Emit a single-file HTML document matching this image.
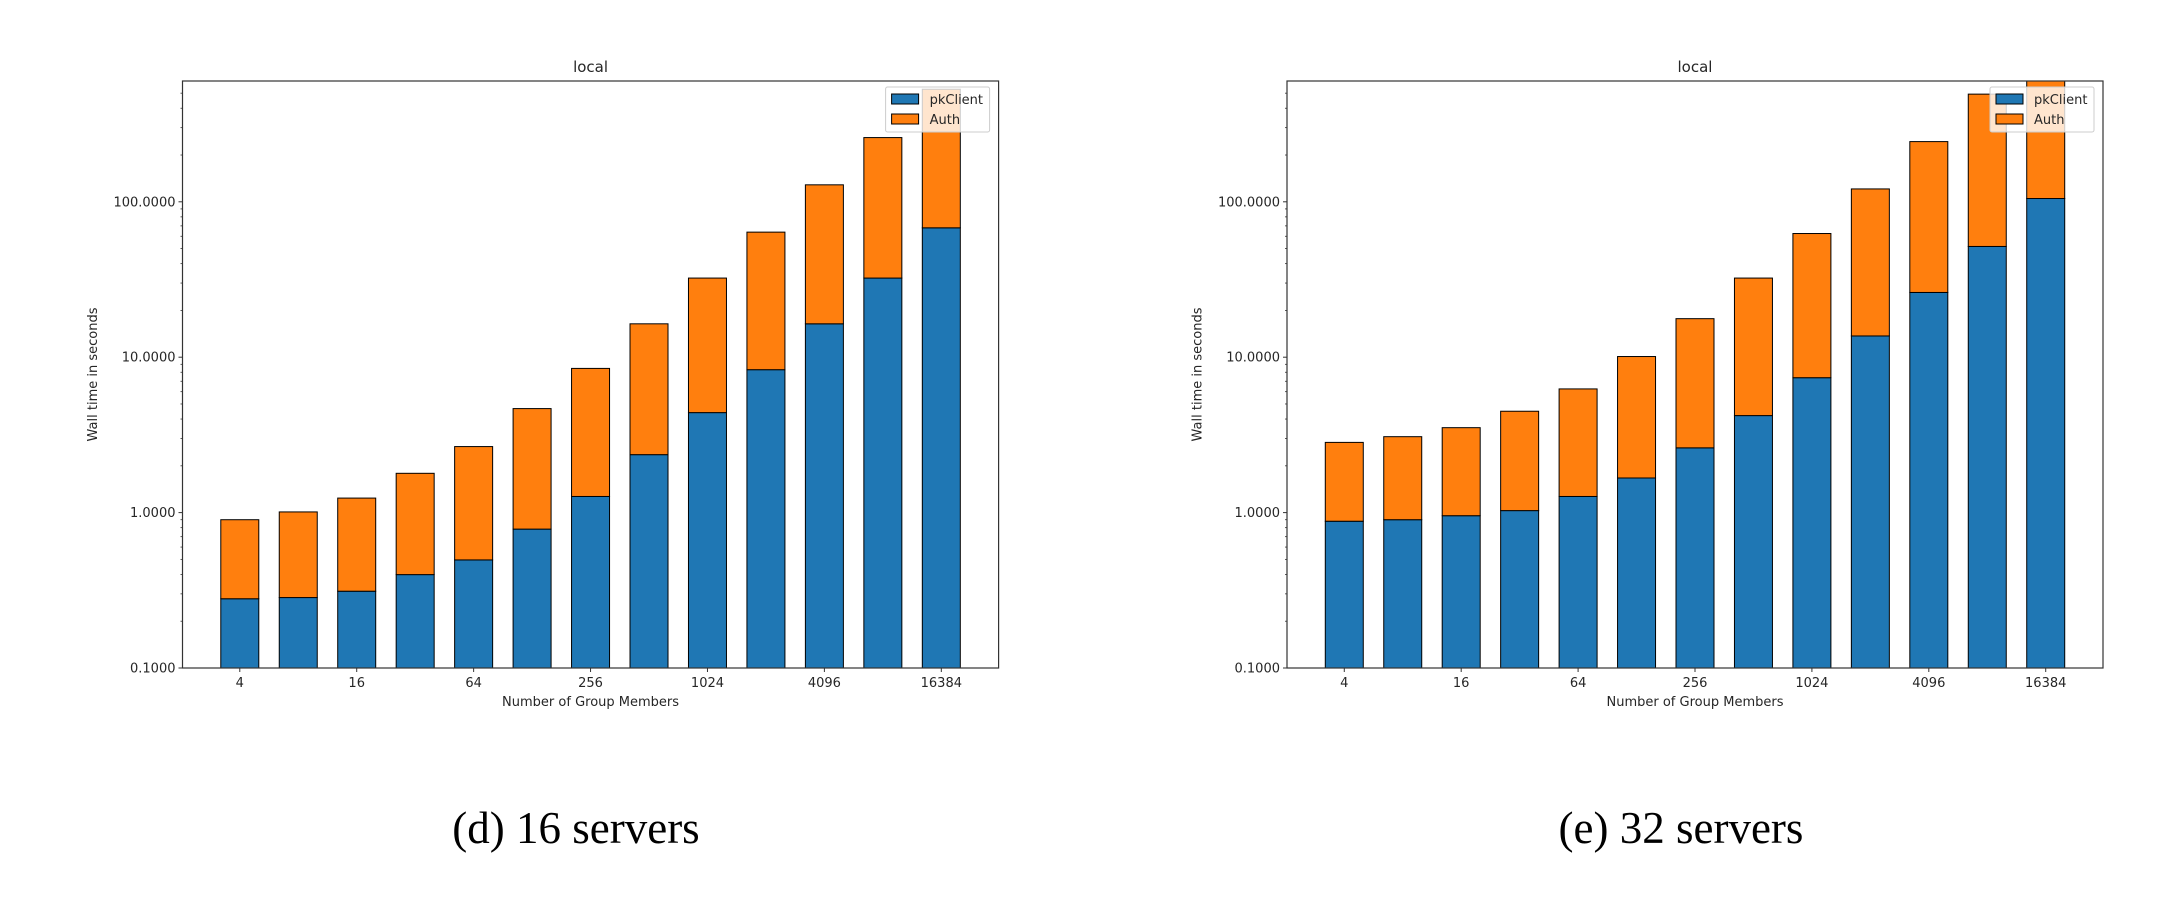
<!DOCTYPE html>
<html><head><meta charset="utf-8">
<style>
html,body{margin:0;padding:0;background:#fff;}
svg text{font-family:"DejaVu Sans","Liberation Sans",sans-serif;fill:#262626;}
.cap{font-family:"Liberation Serif",serif;font-size:45px;fill:#000;}
</style></head>
<body>
<svg id="root" width="2180" height="892" viewBox="0 0 2180 892" xmlns="http://www.w3.org/2000/svg">
<text class="cap" x="576" y="843" text-anchor="middle">(d) 16 servers</text>
<text class="cap" x="1681" y="843" text-anchor="middle">(e) 32 servers</text>
</svg>
<script>
const categories = ["4","8","16","32","64","128","256","512","1024","2048","4096","8192","16384"];
const tickLabels = ["4","16","64","256","1024","4096","16384"];
const yTickValues = [0.1, 1, 10, 100];
const yTickLabels = ["0.1000","1.0000","10.0000","100.0000"];
const pk16 = [0.279,0.284,0.312,0.399,0.496,0.783,1.27,2.36,4.40,8.31,16.4,32.3,68];
const total16 = [0.90,1.01,1.24,1.79,2.66,4.67,8.47,16.4,32.3,63.8,128.6,259,530];
const pk32 = [0.88,0.90,0.955,1.03,1.27,1.67,2.61,4.21,7.38,13.7,26.1,51.6,105];
const total32 = [2.83,3.08,3.52,4.49,6.25,10.1,17.7,32.3,62.5,121,244,493,1000];

const NS="http://www.w3.org/2000/svg";
const root=document.getElementById('root');
function mk(tag,attrs,parent){const e=document.createElementNS(NS,tag);for(const k in attrs)e.setAttribute(k,attrs[k]);(parent||root).appendChild(e);return e;}

function drawChart(id,L,R,pk,total){
  const T=81,B=668;
  const yMinLog=-1, decade=155.4;
  const y=v=>B-(Math.log10(v)-yMinLog)*decade;
  const x0=-0.98,x1=categories.length-1+0.98;
  const x=i=>L+(i-x0)/(x1-x0)*(R-L);
  const unit=(R-L)/(x1-x0), bw=0.65*unit;
  const g=mk('g',{});
  
  
  const cp=mk('clipPath',{id:id+'-clip'},g);
  mk('rect',{x:L,y:T,width:R-L,height:B-T},cp);
  const bars=mk('g',{'clip-path':'url(#'+id+'-clip)'},g);
  categories.forEach((c,i)=>{
    const r1=mk('rect',{x:x(i)-bw/2,y:y(pk[i]),width:bw,height:B-y(pk[i]),fill:'#1f77b4',stroke:'#000','stroke-width':1},bars);
    
    
    const r2=mk('rect',{x:x(i)-bw/2,y:y(total[i]),width:bw,height:y(pk[i])-y(total[i]),fill:'#ff7f0e',stroke:'#000','stroke-width':1},bars);
    
    
  });
  const fr=mk('rect',{x:L,y:T,width:R-L,height:B-T,fill:'none',stroke:'#333','stroke-width':1.2},g);
  
  
  // y ticks
  const topLog=(B-T)/decade+yMinLog;
  for(let d=-1;d<=Math.floor(topLog);d++){
    for(let m=2;m<=9;m++){const v=m*Math.pow(10,d);if(Math.log10(v)>topLog)break;
      mk('line',{x1:L-2,x2:L,y1:y(v),y2:y(v),stroke:'#333','stroke-width':0.8},g);}
  }
  yTickValues.forEach((v,k)=>{
    mk('line',{x1:L-4,x2:L,y1:y(v),y2:y(v),stroke:'#333','stroke-width':1},g);
    const t=mk('text',{x:L-7,y:y(v)+4.5,'text-anchor':'end','font-size':'13'},g);
    t.textContent=yTickLabels[k];
    
    
  });
  tickLabels.forEach((lab,k)=>{
    const i=categories.indexOf(lab);
    mk('line',{x1:x(i),x2:x(i),y1:B,y2:B+4,stroke:'#333','stroke-width':1},g);
    const t=mk('text',{x:x(i),y:B+19,'text-anchor':'middle','font-size':'13'},g);
    t.textContent=lab;
    
    
  });
  const cx=(L+R)/2;
  const ti=mk('text',{x:cx,y:72,'text-anchor':'middle','font-size':'15'},g);ti.textContent='local';
  
  
  const xl=mk('text',{x:cx,y:706,'text-anchor':'middle','font-size':'13'},g);xl.textContent='Number of Group Members';
  
  
  const yx=L-89;
  const yl=mk('text',{x:yx,y:374.5,'text-anchor':'middle','font-size':'13',transform:'rotate(-90 '+yx+' 374.5)','dominant-baseline':'middle'},g);yl.textContent='Wall time in seconds';
  
  
  // legend
  const lx=R-113,ly=87;
  const lg=mk('g',{},g);
  
  
  mk('rect',{x:lx,y:ly,width:104,height:45,rx:2,fill:'#fff','fill-opacity':0.8,stroke:'#ccc','stroke-width':1},lg);
  mk('rect',{x:lx+6,y:ly+7,width:27,height:10,fill:'#1f77b4',stroke:'#000','stroke-width':1},lg);
  mk('rect',{x:lx+6,y:ly+27,width:27,height:10,fill:'#ff7f0e',stroke:'#000','stroke-width':1},lg);
  const t1=mk('text',{x:lx+44,y:ly+17,'font-size':'13'},lg);t1.textContent='pkClient';
  
  
  const t2=mk('text',{x:lx+44,y:ly+37,'font-size':'13'},lg);t2.textContent='Auth';
  
  
}
drawChart('chart-16-servers',182.5,998.6,pk16,total16);
drawChart('chart-32-servers',1287,2103,pk32,total32);
</script>
</body></html>
